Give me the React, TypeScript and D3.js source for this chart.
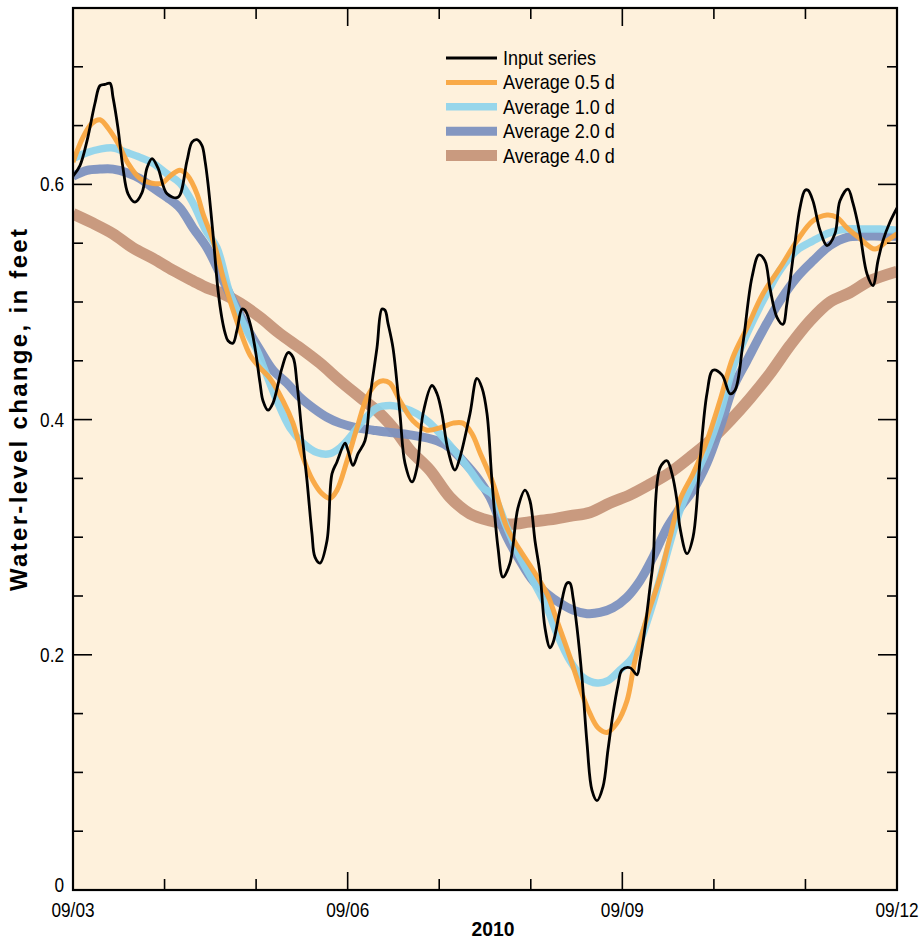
import React from "react";
import * as d3 from "d3";

// day offset from 09/03 (0) to 09/12 (9), value in feet
const inputSeries: [number, number][] = [
  [0, 0.607], [0.076, 0.616], [0.153, 0.637], [0.24, 0.669], [0.295, 0.684], [0.349, 0.685], [0.404, 0.686],
  [0.437, 0.674], [0.491, 0.648], [0.546, 0.614], [0.601, 0.592], [0.677, 0.585], [0.754, 0.593], [0.808, 0.614],
  [0.863, 0.622], [0.928, 0.614], [1.027, 0.592], [1.147, 0.589], [1.245, 0.62], [1.3, 0.636], [1.354, 0.638],
  [1.409, 0.633], [1.442, 0.62], [1.474, 0.601], [1.529, 0.558], [1.584, 0.51], [1.627, 0.486], [1.66, 0.474],
  [1.693, 0.467], [1.747, 0.465], [1.791, 0.476], [1.846, 0.494], [1.879, 0.493], [1.933, 0.482], [1.988, 0.461],
  [2.043, 0.431], [2.075, 0.416], [2.13, 0.408], [2.184, 0.414], [2.283, 0.444], [2.348, 0.457], [2.403, 0.453],
  [2.446, 0.431], [2.501, 0.388], [2.556, 0.348], [2.61, 0.303], [2.643, 0.283], [2.698, 0.278], [2.774, 0.297],
  [2.829, 0.354], [2.883, 0.364], [2.971, 0.38], [3.003, 0.374], [3.058, 0.361], [3.113, 0.371], [3.189, 0.382],
  [3.244, 0.419], [3.32, 0.461], [3.375, 0.494], [3.408, 0.493], [3.44, 0.482], [3.495, 0.461], [3.571, 0.405],
  [3.626, 0.363], [3.703, 0.347], [3.757, 0.359], [3.823, 0.405], [3.921, 0.429], [3.976, 0.422], [4.03, 0.405],
  [4.096, 0.374], [4.172, 0.357], [4.227, 0.368], [4.336, 0.405], [4.412, 0.435], [4.467, 0.427], [4.522, 0.405],
  [4.576, 0.348], [4.642, 0.291], [4.696, 0.266], [4.773, 0.278], [4.86, 0.325], [4.937, 0.34], [4.991, 0.331],
  [5.046, 0.297], [5.101, 0.269], [5.155, 0.223], [5.21, 0.206], [5.242, 0.21], [5.319, 0.238], [5.395, 0.261],
  [5.428, 0.261], [5.461, 0.249], [5.505, 0.223], [5.559, 0.181], [5.614, 0.125], [5.668, 0.085], [5.723, 0.076],
  [5.789, 0.088], [5.843, 0.119], [5.898, 0.15], [5.952, 0.174], [5.996, 0.187], [6.084, 0.189], [6.16, 0.183],
  [6.193, 0.195], [6.248, 0.223], [6.302, 0.257], [6.335, 0.278], [6.411, 0.359], [6.488, 0.365], [6.542, 0.354],
  [6.597, 0.331], [6.63, 0.308], [6.706, 0.286], [6.772, 0.3], [6.848, 0.365], [6.924, 0.422], [6.99, 0.442],
  [7.088, 0.438], [7.176, 0.422], [7.231, 0.425], [7.318, 0.465], [7.416, 0.521], [7.492, 0.54], [7.558, 0.535],
  [7.612, 0.512], [7.689, 0.487], [7.754, 0.481], [7.798, 0.499], [7.885, 0.55], [7.94, 0.58], [7.995, 0.595],
  [8.028, 0.595], [8.082, 0.586], [8.159, 0.561], [8.235, 0.548], [8.322, 0.558], [8.377, 0.586], [8.464, 0.596],
  [8.519, 0.584], [8.595, 0.558], [8.672, 0.524], [8.737, 0.514], [8.792, 0.535], [8.846, 0.552], [8.923, 0.568],
  [9, 0.58],
];

const avg05: [number, number][] = [
  [0, 0.619], [0.109, 0.64], [0.208, 0.652], [0.295, 0.655], [0.382, 0.648], [0.491, 0.635], [0.601, 0.618],
  [0.732, 0.605], [0.863, 0.601], [0.972, 0.601], [1.059, 0.607], [1.169, 0.612], [1.256, 0.607], [1.354, 0.592],
  [1.42, 0.575], [1.518, 0.555], [1.584, 0.538], [1.638, 0.521], [1.715, 0.501], [1.824, 0.476], [1.933, 0.455],
  [2.043, 0.444], [2.152, 0.435], [2.294, 0.416], [2.403, 0.397], [2.512, 0.368], [2.621, 0.348], [2.72, 0.337],
  [2.807, 0.333], [2.883, 0.34], [2.993, 0.365], [3.102, 0.393], [3.211, 0.419], [3.32, 0.431], [3.386, 0.433],
  [3.462, 0.431], [3.571, 0.416], [3.713, 0.399], [3.866, 0.391], [4.008, 0.393], [4.15, 0.397], [4.259, 0.397],
  [4.358, 0.388], [4.445, 0.372], [4.587, 0.346], [4.74, 0.308], [4.882, 0.289], [5.024, 0.272], [5.177, 0.252],
  [5.286, 0.229], [5.428, 0.198], [5.559, 0.167], [5.647, 0.15], [5.734, 0.138], [5.832, 0.134], [5.941, 0.142],
  [6.051, 0.161], [6.138, 0.195], [6.269, 0.232], [6.411, 0.266], [6.521, 0.3], [6.63, 0.332], [6.772, 0.354],
  [6.924, 0.382], [7.066, 0.416], [7.208, 0.453], [7.361, 0.478], [7.536, 0.507], [7.722, 0.529], [7.907, 0.552],
  [8.082, 0.569], [8.235, 0.574], [8.344, 0.572], [8.454, 0.563], [8.595, 0.554], [8.759, 0.545], [8.89, 0.552],
  [9, 0.558],
];

const avg10: [number, number][] = [
  [0, 0.622], [0.153, 0.627], [0.295, 0.63], [0.437, 0.631], [0.59, 0.627], [0.732, 0.623], [0.874, 0.618],
  [1.027, 0.609], [1.169, 0.601], [1.311, 0.584], [1.442, 0.562], [1.573, 0.546], [1.715, 0.507], [1.857, 0.482],
  [1.933, 0.47], [2.01, 0.459], [2.075, 0.446], [2.228, 0.416], [2.37, 0.393], [2.512, 0.38], [2.665, 0.372],
  [2.807, 0.371], [2.916, 0.376], [3.025, 0.385], [3.167, 0.399], [3.32, 0.41], [3.462, 0.412], [3.604, 0.41],
  [3.757, 0.405], [3.899, 0.397], [4.041, 0.385], [4.194, 0.371], [4.336, 0.357], [4.478, 0.342], [4.587, 0.336],
  [4.74, 0.308], [4.882, 0.283], [5.024, 0.263], [5.177, 0.24], [5.286, 0.218], [5.428, 0.195], [5.57, 0.181],
  [5.723, 0.176], [5.843, 0.178], [5.974, 0.187], [6.116, 0.198], [6.226, 0.218], [6.335, 0.244], [6.444, 0.274],
  [6.63, 0.323], [6.772, 0.348], [6.924, 0.374], [7.066, 0.405], [7.208, 0.444], [7.361, 0.473], [7.536, 0.501],
  [7.722, 0.527], [7.907, 0.544], [8.082, 0.552], [8.268, 0.559], [8.454, 0.562], [8.628, 0.562], [8.814, 0.562],
  [9, 0.561],
];

const avg20: [number, number][] = [
  [0, 0.607], [0.153, 0.612], [0.295, 0.613], [0.437, 0.613], [0.59, 0.61], [0.732, 0.605], [0.874, 0.597],
  [1.027, 0.589], [1.169, 0.58], [1.311, 0.563], [1.464, 0.546], [1.606, 0.524], [1.747, 0.501], [1.9, 0.478],
  [2.043, 0.459], [2.184, 0.442], [2.337, 0.431], [2.479, 0.419], [2.621, 0.41], [2.774, 0.402], [2.916, 0.397],
  [3.102, 0.393], [3.277, 0.391], [3.462, 0.389], [3.681, 0.387], [3.976, 0.382], [4.117, 0.376], [4.259, 0.365],
  [4.412, 0.351], [4.554, 0.334], [4.631, 0.32], [4.74, 0.3], [4.882, 0.28], [5.024, 0.263], [5.177, 0.252],
  [5.319, 0.244], [5.461, 0.238], [5.614, 0.235], [5.756, 0.236], [5.898, 0.24], [6.051, 0.249], [6.193, 0.263],
  [6.335, 0.283], [6.488, 0.308], [6.63, 0.325], [6.772, 0.34], [6.924, 0.363], [7.066, 0.393], [7.208, 0.427],
  [7.361, 0.45], [7.536, 0.476], [7.722, 0.501], [7.907, 0.521], [8.082, 0.535], [8.268, 0.548], [8.454, 0.555],
  [8.628, 0.556], [8.814, 0.556], [9, 0.556],
];

const avg40: [number, number][] = [
  [0, 0.575], [0.218, 0.567], [0.437, 0.558], [0.655, 0.546], [0.874, 0.537], [1.092, 0.527], [1.311, 0.518],
  [1.464, 0.512], [1.606, 0.508], [1.824, 0.499], [2.043, 0.487], [2.261, 0.473], [2.479, 0.461], [2.698, 0.448],
  [2.916, 0.433], [3.135, 0.419], [3.353, 0.405], [3.517, 0.391], [3.681, 0.374], [3.899, 0.357], [4.117, 0.334],
  [4.336, 0.32], [4.554, 0.314], [4.773, 0.311], [4.991, 0.313], [5.21, 0.315], [5.428, 0.318], [5.647, 0.321],
  [5.865, 0.329], [6.084, 0.336], [6.302, 0.345], [6.521, 0.355], [6.739, 0.368], [6.957, 0.382], [7.176, 0.399],
  [7.394, 0.418], [7.612, 0.439], [7.831, 0.463], [8.049, 0.484], [8.268, 0.5], [8.486, 0.508], [8.704, 0.518],
  [9, 0.526],
];

const xTickDays = [0, 1, 2, 3, 4, 5, 6, 7, 8, 9];
const xLabelDays = [0, 3, 6, 9];
const xLabels = ["09/03", "09/06", "09/09", "09/12"];
const yMinorTicks = [0.05, 0.1, 0.15, 0.25, 0.3, 0.35, 0.45, 0.5, 0.55, 0.65, 0.7];
const yMajorTicks = [0, 0.2, 0.4, 0.6];
const yLabels = ["0", "0.2", "0.4", "0.6"];

const legendNames = ["Input series", "Average 0.5 d", "Average 1.0 d", "Average 2.0 d", "Average 4.0 d"];

const W = 921;
const H = 940;
const L = 73, R = 897, T = 8, B = 890;
const FONT = "'Liberation Sans', Arial, sans-serif";

const seriesStyle = [
  { color: "#000000", width: 2.8, opacity: 1 },
  { color: "#F9A53F", width: 5, opacity: 0.95 },
  { color: "#8ED4EC", width: 7.5, opacity: 0.92 },
  { color: "#7D91BF", width: 9, opacity: 0.95 },
  { color: "#C99A7F", width: 11.5, opacity: 1 },
];

function CText(props: {
  x: number;
  y: number;
  sx: number;
  size: number;
  anchor?: string;
  bold?: boolean;
  children: React.ReactNode;
}) {
  const { x, y, sx, size, anchor = "start", bold = false, children } = props;
  return (
    <g transform={`translate(${x},${y}) scale(${sx},1)`}>
      <text
        x={0}
        y={0}
        textAnchor={anchor}
        fontFamily={FONT}
        fontSize={size}
        fontWeight={bold ? "bold" : "normal"}
        fill="#000"
      >
        {children}
      </text>
    </g>
  );
}

export default function App() {
  const x = d3.scaleLinear().domain([0, 9]).range([L, R]);
  const y = d3.scaleLinear().domain([0, 0.75]).range([B, T]);
  const line = d3
    .line<[number, number]>()
    .x((d) => x(d[0]))
    .y((d) => y(d[1]))
    .curve(d3.curveCatmullRom.alpha(0.5));

  const series = [inputSeries, avg05, avg10, avg20, avg40];
  const drawOrder = [4, 3, 2, 1, 0];

  return (
    <svg width={W} height={H} style={{ position: "absolute", left: 0, top: 0, background: "#fff" }}>
      <rect x={L} y={T} width={R - L} height={B - T} fill="#FEF1DC" />
      <defs>
        <clipPath id="plotclip">
          <rect x={L} y={T} width={R - L} height={B - T} />
        </clipPath>
      </defs>
      <g clipPath="url(#plotclip)">
        {drawOrder.map((i) => (
          <path
            key={i}
            d={line(series[i]) || ""}
            fill="none"
            stroke={seriesStyle[i].color}
            strokeWidth={seriesStyle[i].width}
            strokeOpacity={seriesStyle[i].opacity}
            strokeLinejoin="round"
            strokeLinecap="butt"
          />
        ))}
      </g>

      {/* ticks */}
      <g stroke="#000" strokeWidth={1.6}>
        {xTickDays.map((d) => {
          const len = xLabelDays.includes(d) ? 18 : 11;
          return (
            <g key={"xt" + d}>
              <line x1={x(d)} x2={x(d)} y1={B} y2={B - len} />
              <line x1={x(d)} x2={x(d)} y1={T} y2={T + len} />
            </g>
          );
        })}
        {yMinorTicks.map((v) => (
          <g key={"ym" + v}>
            <line x1={L} x2={L + 10} y1={y(v)} y2={y(v)} />
            <line x1={R} x2={R - 10} y1={y(v)} y2={y(v)} />
          </g>
        ))}
        {yMajorTicks.map((v) => (
          <g key={"yM" + v}>
            <line x1={L} x2={L + 19} y1={y(v)} y2={y(v)} />
            <line x1={R} x2={R - 19} y1={y(v)} y2={y(v)} />
          </g>
        ))}
      </g>

      {/* frame */}
      <rect x={L} y={T} width={R - L} height={B - T} fill="none" stroke="#000" strokeWidth={2.2} />

      {/* tick labels */}
      {yMajorTicks.map((v, i) => (
        <CText key={"yl" + v} x={L - 9} y={y(v) + (v === 0 ? 2 : 7)} sx={0.82} size={21} anchor="end">
          {yLabels[i]}
        </CText>
      ))}
      {xLabelDays.map((d, i) => (
        <CText key={"xl" + d} x={x(d)} y={917} sx={0.82} size={21} anchor="middle">
          {xLabels[i]}
        </CText>
      ))}

      {/* axis titles */}
      <CText x={493} y={936} sx={0.92} size={21} anchor="middle" bold>
        2010
      </CText>
      <g transform="translate(27, 410) rotate(-90)">
        <text
          x={0}
          y={0}
          textAnchor="middle"
          fontFamily={FONT}
          fontWeight="bold"
          fontSize={24}
          textLength={362}
          lengthAdjust="spacing"
        >
          Water-level change, in feet
        </text>
      </g>

      {/* legend */}
      {legendNames.map((name, i) => {
        const yy = 58 + i * 24.4;
        return (
          <g key={name}>
            <line
              x1={446}
              x2={497}
              y1={yy}
              y2={yy}
              stroke={seriesStyle[i].color}
              strokeWidth={Math.min(seriesStyle[i].width, 11)}
              strokeOpacity={seriesStyle[i].opacity}
            />
            <CText x={503} y={yy + 7} sx={0.9} size={20}>
              {name}
            </CText>
          </g>
        );
      })}
    </svg>
  );
}
